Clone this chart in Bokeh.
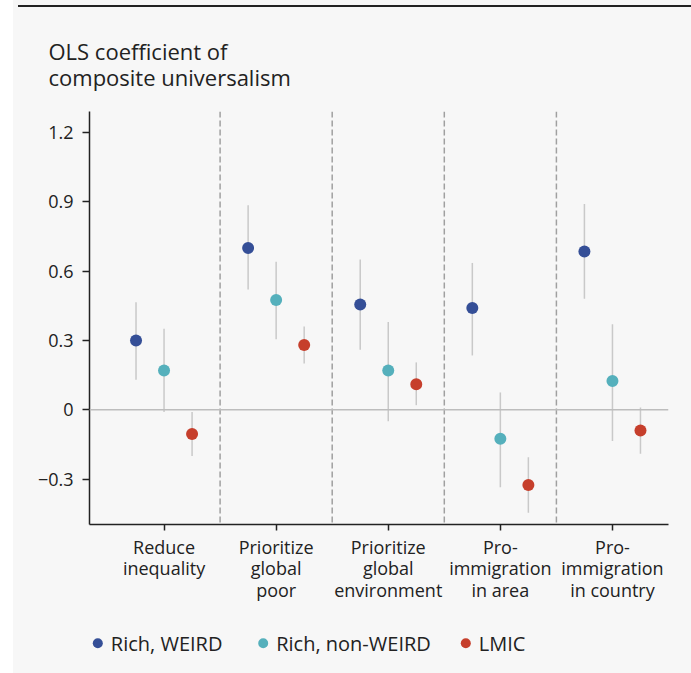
from bokeh.plotting import figure
from bokeh.models import Range1d, FixedTicker, Span, Div, Spacer, ColumnDataSource
from bokeh.core.properties import value
from bokeh.layouts import row, column
from bokeh.embed import file_html
from bokeh.resources import INLINE

# ---- data ----
categories = ["Reduce\ninequality", "Prioritize\nglobal\npoor", "Prioritize\nglobal\nenvironment",
              "Pro-\nimmigration\nin area", "Pro-\nimmigration\nin country"]
groups = ["Rich, WEIRD", "Rich, non-WEIRD", "LMIC"]
weird_est = [0.30, 0.70, 0.455, 0.44, 0.685]
weird_lo = [0.13, 0.52, 0.26, 0.235, 0.48]
weird_hi = [0.465, 0.885, 0.65, 0.635, 0.89]
nonweird_est = [0.17, 0.475, 0.17, -0.125, 0.125]
nonweird_lo = [-0.01, 0.305, -0.05, -0.335, -0.135]
nonweird_hi = [0.35, 0.64, 0.38, 0.075, 0.37]
lmic_est = [-0.105, 0.28, 0.11, -0.325, -0.09]
lmic_lo = [-0.20, 0.20, 0.02, -0.445, -0.19]
lmic_hi = [-0.01, 0.36, 0.205, -0.205, 0.01]
y_ticks = [-0.3, 0, 0.3, 0.6, 0.9, 1.2]
y_tick_labels = ["\u22120.3", "0", "0.3", "0.6", "0.9", "1.2"]

colors = ["#354f97", "#55b0bc", "#c63f2c"]
offsets = [-0.25, 0.0, 0.25]
FONT = "Open Sans"
BG = "#f7f7f7"
TXT = "#222222"
W = 678

p = figure(width=W, height=606, output_backend="svg", toolbar_location=None,
           x_range=Range1d(-0.665, 4.5), y_range=Range1d(-0.496, 1.29),
           min_border_left=76, min_border_right=23, min_border_top=99, min_border_bottom=94,
           background_fill_color=BG, border_fill_color=BG, outline_line_color=None)
p.xgrid.visible = False
p.ygrid.visible = False

p.title.text = "OLS coefficient of\ncomposite universalism"
p.title.text_font = FONT
p.title.text_font_size = "22px"
p.title.text_font_style = "normal"
p.title.text_color = TXT
p.title.text_line_height = 0.88
p.title.align = "left"
p.title.offset = -41
p.title.standoff = 38

# separators and zero line
for b in [0.5, 1.5, 2.5, 3.5]:
    p.add_layout(Span(location=b, dimension="height", line_color="#a0a0a0", line_width=1.5, line_dash="6 3"))
p.add_layout(Span(location=0, dimension="width", line_color="#bdbdbd", line_width=1.5))

series = [(weird_est, weird_lo, weird_hi), (nonweird_est, nonweird_lo, nonweird_hi), (lmic_est, lmic_lo, lmic_hi)]
for (est, lo, hi), c, off in zip(series, colors, offsets):
    xs = [i + off for i in range(len(categories))]
    src = ColumnDataSource(dict(x=xs, est=est, lo=lo, hi=hi))
    p.segment(x0="x", x1="x", y0="lo", y1="hi", source=src, line_color="#c9c9c9", line_width=1.5)
    p.scatter(x="x", y="est", source=src, size=12, fill_color=c, line_color=c, line_width=0)

# axes
xa = p.xaxis[0]
xa.ticker = FixedTicker(ticks=list(range(len(categories))), minor_ticks=[])
xa.major_label_overrides = {i: lab for i, lab in enumerate(categories)}
ya = p.yaxis[0]
ya.ticker = FixedTicker(ticks=y_ticks, minor_ticks=[])
ya.major_label_overrides = {t: l for t, l in zip(y_ticks, y_tick_labels)}
for ax in (xa, ya):
    ax.axis_line_color = TXT
    ax.axis_line_width = 1.5
    ax.major_tick_line_color = TXT
    ax.major_tick_line_width = 1.5
    ax.major_tick_in = 0
    ax.major_tick_out = 7
    ax.minor_tick_line_color = None
    ax.major_label_text_font = FONT
    ax.major_label_text_font_size = "18px"
    ax.major_label_text_color = TXT
xa.major_tick_out = 6
xa.major_label_standoff = 4
xa.major_label_text_line_height = 0.9
ya.major_label_standoff = 9

# legend strip (small figure in pixel units under the chart)
LH = 55
lf = figure(width=W, height=LH, output_backend="svg", toolbar_location=None,
            x_axis_location=None, y_axis_location=None,
            x_range=Range1d(0, W), y_range=Range1d(0, LH), frame_align=False,
            min_border=0, background_fill_color=BG, border_fill_color=BG, outline_line_color=None)
p.frame_align = False
lf.xgrid.visible = False
lf.ygrid.visible = False
leg_x = [84.3, 249.7, 452.3]
leg_y = LH - 24.7
lsrc = ColumnDataSource(dict(x=leg_x, tx=[x + 13 for x in leg_x], y=[leg_y] * 3, label=groups, color=colors))
lf.scatter(x="x", y="y", source=lsrc, size=10, fill_color="color", line_color="color", line_width=0)
lf.text(x="tx", y="y", text="label", source=lsrc, text_baseline="middle", text_align="left",
        text_font=value(FONT), text_font_size="20px", text_color=TXT)

topline = Div(width=W, height=2, styles={"background-color": TXT})
layout = row(Spacer(width=13, height=10), column(topline, p, lf, styles={"background-color": BG}))

open("out.html", "w").write(file_html(layout, INLINE))
